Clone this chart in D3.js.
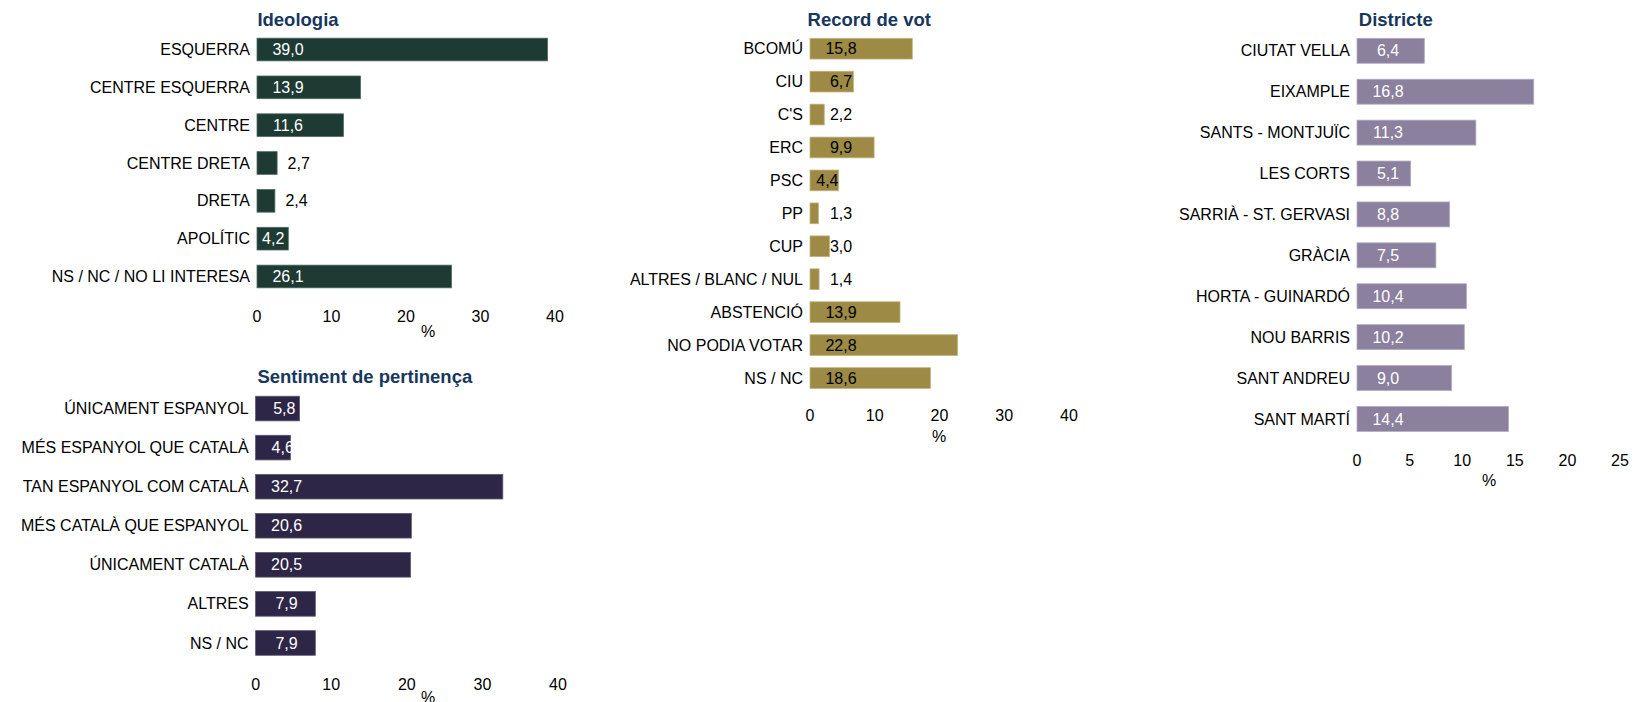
<!DOCTYPE html>
<html>
<head>
<meta charset="utf-8">
<script src="https://cdn.jsdelivr.net/npm/d3@7"></script>
<style>
  html, body { margin: 0; padding: 0; background: #fff; }
  svg { display: block; font-family: "Liberation Sans", Arial, sans-serif; }
</style>
</head>
<body>
<svg id="chart" width="1634" height="702"></svg>
<script>
// ---------------- DATA ----------------
const ideologiaCategories = ["ESQUERRA", "CENTRE ESQUERRA", "CENTRE", "CENTRE DRETA", "DRETA", "APOLÍTIC", "NS / NC / NO LI INTERESA"];
const ideologiaValues = [39.0, 13.9, 11.6, 2.7, 2.4, 4.2, 26.1];
const ideologiaTicks = [0, 10, 20, 30, 40];

const sentimentCategories = ["ÚNICAMENT ESPANYOL", "MÉS ESPANYOL QUE CATALÀ", "TAN ESPANYOL COM CATALÀ", "MÉS CATALÀ QUE ESPANYOL", "ÚNICAMENT CATALÀ", "ALTRES", "NS / NC"];
const sentimentValues = [5.8, 4.6, 32.7, 20.6, 20.5, 7.9, 7.9];
const sentimentTicks = [0, 10, 20, 30, 40];

const recordCategories = ["BCOMÚ", "CIU", "C'S", "ERC", "PSC", "PP", "CUP", "ALTRES / BLANC / NUL", "ABSTENCIÓ", "NO PODIA VOTAR", "NS / NC"];
const recordValues = [15.8, 6.7, 2.2, 9.9, 4.4, 1.3, 3.0, 1.4, 13.9, 22.8, 18.6];
const recordTicks = [0, 10, 20, 30, 40];

const districteCategories = ["CIUTAT VELLA", "EIXAMPLE", "SANTS - MONTJUÏC", "LES CORTS", "SARRIÀ - ST. GERVASI", "GRÀCIA", "HORTA - GUINARDÓ", "NOU BARRIS", "SANT ANDREU", "SANT MARTÍ"];
const districteValues = [6.4, 16.8, 11.3, 5.1, 8.8, 7.5, 10.4, 10.2, 9.0, 14.4];
const districteTicks = [0, 5, 10, 15, 20, 25];

// ---------------- LAYOUT / STYLE ----------------
const panels = [
  { title: "Ideologia", cats: ideologiaCategories, vals: ideologiaValues, ticks: ideologiaTicks,
    x0: 257, x1: 555, y0: 30.6, y1: 295.4, pad: 0.4, titleX: 257.4, titleY: 20, tickY: 316, pctX: 428, pctY: 331,
    fill: "#1D3A33", stroke: "#4f6a63", inside: "#ffffff", outside: "#000000",
    endGap: 4, minStart: 0, outsideEnd: true },
  { title: "Sentiment de pertinença", cats: sentimentCategories, vals: sentimentValues, ticks: sentimentTicks,
    x0: 255.6, x1: 558, y0: 389, y1: 662.5, pad: 0.37, titleX: 257.4, titleY: 377, tickY: 684, pctX: 428, pctY: 697,
    fill: "#2E2646", stroke: "#5c5574", inside: "#ffffff", outside: "#ffffff",
    endGap: 4, minStart: 16, outsideEnd: false },
  { title: "Record de vot", cats: recordCategories, vals: recordValues, ticks: recordTicks,
    x0: 810, x1: 1069, y0: 32.2, y1: 394.5, pad: 0.37, titleX: 807.6, titleY: 20, tickY: 415, pctX: 939, pctY: 436,
    fill: "#9C8A45", stroke: "#c2b482", inside: "#000000", outside: "#000000",
    endGap: 0, minStart: 0, outsideEnd: false },
  { title: "Districte", cats: districteCategories, vals: districteValues, ticks: districteTicks,
    x0: 1357, x1: 1620, y0: 30.35, y1: 439.4, pad: 0.39, titleX: 1358.8, titleY: 20, tickY: 460, pctX: 1489, pctY: 480,
    fill: "#8B809E", stroke: "#b3abc2", inside: "#ffffff", outside: "#000000",
    endGap: 4, minStart: 0, outsideEnd: true }
];

const FONT = 16;
const TITLE_FONT = 18.5;
const TITLE_COLOR = "#17375E";
const LABEL_GAP = 7;        // gap between category label and bar base
const VALUE_OFFSET = 31;    // value label centre offset from bar base
const OUTSIDE_GAP = 10.5;   // gap for labels placed beyond the bar end
const fmt = v => d3.format(".1f")(v).replace(".", ",");

const svg = d3.select("#chart");

panels.forEach(p => {
  const g = svg.append("g");
  const domainMax = p.ticks[p.ticks.length - 1];
  const x = d3.scaleLinear().domain([0, domainMax]).range([p.x0, p.x1]);
  const y = d3.scaleBand().domain(p.cats).range([p.y0, p.y1]).paddingInner(p.pad).paddingOuter(p.pad / 2);

  // title
  g.append("text")
    .attr("x", p.titleX)
    .attr("y", p.titleY)
    .attr("dy", "0.35em")
    .attr("font-size", TITLE_FONT)
    .attr("font-weight", "bold")
    .attr("fill", TITLE_COLOR)
    .text(p.title);

  // category labels
  g.selectAll("text.cat").data(p.cats).join("text")
    .attr("class", "cat")
    .attr("x", x(0) - LABEL_GAP)
    .attr("y", d => y(d) + y.bandwidth() / 2)
    .attr("dy", "0.35em")
    .attr("text-anchor", "end")
    .attr("font-size", FONT)
    .attr("fill", "#000")
    .text(d => d);

  const rows = p.cats.map((c, i) => ({ cat: c, val: p.vals[i] }));

  // bars
  g.selectAll("rect.bar").data(rows).join("rect")
    .attr("class", "bar")
    .attr("x", x(0))
    .attr("y", d => y(d.cat))
    .attr("width", d => x(d.val) - x(0))
    .attr("height", y.bandwidth())
    .attr("fill", p.fill)
    .attr("stroke", p.stroke)
    .attr("stroke-width", 0.8);

  // value labels
  const vl = g.selectAll("text.val").data(rows).join("text")
    .attr("class", "val")
    .attr("y", d => y(d.cat) + y.bandwidth() / 2)
    .attr("dy", "0.35em")
    .attr("font-size", FONT)
    .attr("text-anchor", "start")
    .text(d => fmt(d.val));

  vl.each(function(d) {
    const w = this.getComputedTextLength();
    const base = x(0);
    const end = x(d.val);
    let start = base + VALUE_OFFSET - w / 2;
    let inside = end >= start + w;
    if (p.outsideEnd && end - base < w) {
      start = end + OUTSIDE_GAP; inside = false;
    } else if (end > start && end < start + w + p.endGap) {
      if (end - base >= w + p.endGap) {
        start = Math.max(end - w - p.endGap, base + p.minStart); inside = true;
      } else {
        start = end + OUTSIDE_GAP; inside = false;
      }
    } else if (end <= start) {
      inside = false;
    }
    d3.select(this).attr("x", start).attr("fill", inside ? p.inside : p.outside);
  });

  // x tick labels (no axis line, no tick marks)
  g.selectAll("text.tick").data(p.ticks).join("text")
    .attr("class", "tick")
    .attr("x", d => x(d))
    .attr("y", p.tickY)
    .attr("dy", "0.35em")
    .attr("text-anchor", "middle")
    .attr("font-size", FONT)
    .attr("fill", "#000")
    .text(d => d);

  // axis title
  g.append("text")
    .attr("x", p.pctX)
    .attr("y", p.pctY)
    .attr("dy", "0.35em")
    .attr("text-anchor", "middle")
    .attr("font-size", FONT)
    .attr("fill", "#000")
    .text("%");
});
</script>
</body>
</html>
